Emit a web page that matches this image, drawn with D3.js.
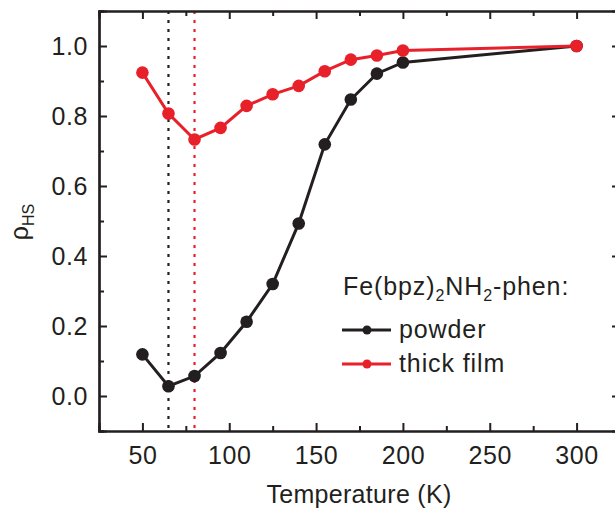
<!DOCTYPE html>
<html><head><meta charset="utf-8">
<script src="https://cdn.jsdelivr.net/npm/d3@7"></script>
<style>body{margin:0;background:#fff}svg{display:block}text{font-family:"Liberation Sans",Arial,sans-serif;fill:#231f20}</style>
</head><body><svg id="c" width="615" height="509"></svg>
<script>
const temps = [50, 65, 80, 95, 110, 125, 140, 155, 170, 185, 200, 300];
const powder = [0.119, 0.028, 0.057, 0.123, 0.212, 0.320, 0.493, 0.719, 0.847, 0.921, 0.953, 1.0];
const film = [0.924, 0.807, 0.733, 0.766, 0.829, 0.862, 0.886, 0.928, 0.961, 0.973, 0.987, 1.0];
const xTicks = [50, 100, 150, 200, 250, 300];
const yTicks = [0.0, 0.2, 0.4, 0.6, 0.8, 1.0];
const vlines = [{t: 65, c: "#231f20"}, {t: 80, c: "#e8202a"}];
const BLACK = "#231f20", RED = "#e8202a";

const svg = d3.select("#c");
const L = 99, R = 620, T = 11, B = 431;
const x = d3.scaleLinear().domain([25, 325]).range([L, R]);
const y = d3.scaleLinear().domain([-0.1, 1.1]).range([B, T]);

// dotted vertical lines
vlines.forEach(v => {
  svg.append("line").attr("x1", x(v.t)).attr("x2", x(v.t)).attr("y1", T).attr("y2", B)
    .attr("stroke", v.c).attr("stroke-width", 2.2).attr("stroke-dasharray", "3 6");
});

// axes
const minorX = d3.range(75, 325, 50);
const minorY = [-0.1, 0.1, 0.3, 0.5, 0.7, 0.9, 1.1];
function axisG(axis, tr) { return svg.append("g").attr("transform", tr).call(axis); }
const ax = [
  axisG(d3.axisBottom(x).tickValues(xTicks).tickSize(-8).tickFormat(d3.format("d")).tickPadding(15), `translate(0,${B})`),
  axisG(d3.axisBottom(x).tickValues(minorX).tickSize(-5).tickFormat(""), `translate(0,${B})`),
  axisG(d3.axisTop(x).tickValues(xTicks).tickSize(-8).tickFormat(""), `translate(0,${T})`),
  axisG(d3.axisTop(x).tickValues(minorX).tickSize(-5).tickFormat(""), `translate(0,${T})`),
  axisG(d3.axisLeft(y).tickValues(yTicks).tickSize(-8).tickFormat(d3.format(".1f")).tickPadding(11), `translate(${L},0)`),
  axisG(d3.axisLeft(y).tickValues(minorY).tickSize(-5).tickFormat(""), `translate(${L},0)`),
  axisG(d3.axisRight(y).tickValues(yTicks).tickSize(-8).tickFormat(""), `translate(${R},0)`),
  axisG(d3.axisRight(y).tickValues(minorY).tickSize(-5).tickFormat(""), `translate(${R},0)`)
];
ax.forEach(g => {
  g.select(".domain").attr("stroke", BLACK).attr("stroke-width", 2.2);
  g.selectAll(".tick line").attr("stroke", BLACK).attr("stroke-width", 2);
  g.selectAll(".tick text").attr("font-size", 25).attr("letter-spacing", 0.6).attr("fill", BLACK)
    .attr("font-family", '"Liberation Sans",Arial,sans-serif');
});

// series
const line = d3.line().x((d, i) => x(temps[i])).y(d => y(d));
[[powder, BLACK], [film, RED]].forEach(([vals, col]) => {
  svg.append("path").datum(vals).attr("d", line).attr("fill", "none")
    .attr("stroke", col).attr("stroke-width", 3);
  svg.selectAll(null).data(vals).enter().append("circle")
    .attr("cx", (d, i) => x(temps[i])).attr("cy", d => y(d)).attr("r", 6.3).attr("fill", col);
});

// axis titles
svg.append("text").attr("x", 359).attr("y", 503).attr("text-anchor", "middle")
  .attr("font-size", 25).attr("letter-spacing", 0.3).text("Temperature (K)");
const yl = svg.append("text").attr("transform", "translate(28,222) rotate(-90)")
  .attr("text-anchor", "middle").attr("font-size", 25);
yl.append("tspan").text("ρ");
yl.append("tspan").attr("font-size", 16).attr("dy", 6).text("HS");

// legend
const lg = svg.append("text").attr("x", 343).attr("y", 295).attr("font-size", 25).attr("letter-spacing", 0.9);
lg.append("tspan").text("Fe(bpz)");
lg.append("tspan").attr("font-size", 16).attr("dy", 6).text("2");
lg.append("tspan").attr("dy", -6).text("NH");
lg.append("tspan").attr("font-size", 16).attr("dy", 6).text("2");
lg.append("tspan").attr("dy", -6).text("-phen:");
[["powder", BLACK, 330], ["thick film", RED, 364]].forEach(([lab, col, yy]) => {
  svg.append("line").attr("x1", 342).attr("x2", 391).attr("y1", yy).attr("y2", yy)
    .attr("stroke", col).attr("stroke-width", 3);
  svg.append("circle").attr("cx", 367).attr("cy", yy).attr("r", 4.5).attr("fill", col);
  svg.append("text").attr("x", 399).attr("y", yy + 8).attr("font-size", 25).attr("letter-spacing", 0.9).text(lab);
});
</script></body></html>
